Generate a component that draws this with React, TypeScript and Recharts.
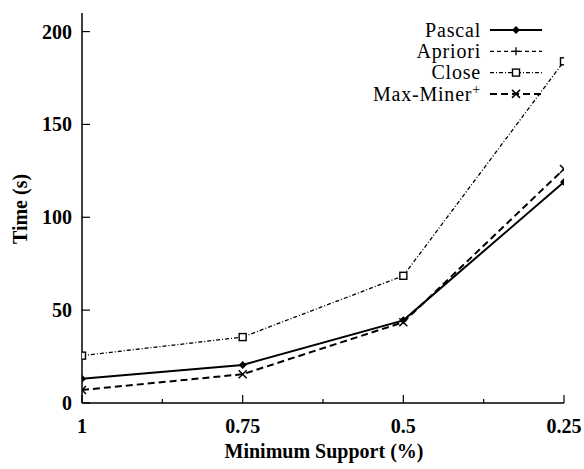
import React from 'react';
import { Label, Legend, Line, LineChart, XAxis, YAxis } from 'recharts';

// minimum support (%) on the x axis, run time in seconds on the y axis
const supports = [1, 0.75, 0.5, 0.25];
const pascalTimes = [13, 20.5, 44.5, 119];
const aprioriTimes: (number | null)[] = [null, null, null, null]; // off the plotted range
const closeTimes = [25.5, 35.5, 68.5, 184];
const maxMinerTimes = [7, 15.5, 43.5, 126];

const xTicks = [1, 0.875, 0.75, 0.625, 0.5, 0.375, 0.25];
const yTicks = [0, 50, 100, 150, 200];

const data = supports.map((s, i) => ({
    support: s,
    Pascal: pascalTimes[i],
    Apriori: aprioriTimes[i],
    Close: closeTimes[i],
    MaxMiner: maxMinerTimes[i],
}));

const FONT = '"Liberation Serif", "Times New Roman", serif';
const W = 584;
const H = 469;
const PLOT_LEFT = 82;
const PLOT_RIGHT = 564;
const PLOT_TOP = 13;
const PLOT_BOTTOM = 403;

const isMajor = (v: number) => supports.includes(v);

function Diamond({ cx, cy }: any) {
    if (cx == null || cy == null) return null;
    const r = 4;
    return <path d={`M${cx},${cy - r}L${cx + r},${cy}L${cx},${cy + r}L${cx - r},${cy}Z`} fill='#000' />;
}
function Plus({ cx, cy }: any) {
    if (cx == null || cy == null) return null;
    const r = 4;
    return <path d={`M${cx - r},${cy}H${cx + r}M${cx},${cy - r}V${cy + r}`} stroke='#000' strokeWidth={1.3} fill='none' />;
}
function Square({ cx, cy }: any) {
    if (cx == null || cy == null) return null;
    const r = 3.5;
    return <rect x={cx - r} y={cy - r} width={2 * r} height={2 * r} stroke='#000' strokeWidth={1.4} fill='#fff' />;
}
function Cross({ cx, cy }: any) {
    if (cx == null || cy == null) return null;
    const r = 4;
    return <path d={`M${cx - r},${cy - r}L${cx + r},${cy + r}M${cx - r},${cy + r}L${cx + r},${cy - r}`} stroke='#000' strokeWidth={1.5} fill='none' />;
}

const series = [
    { key: 'Pascal', label: 'Pascal', dash: undefined, width: 2, Dot: Diamond },
    { key: 'Apriori', label: 'Apriori', dash: '4 3', width: 1.3, Dot: Plus },
    { key: 'Close', label: 'Close', dash: '4 2 1 2', width: 1.3, Dot: Square },
    { key: 'MaxMiner', label: 'Max-Miner', dash: '7 4', width: 2, Dot: Cross },
];

function BottomTick({ x, y, payload }: any) {
    const major = isMajor(payload.value);
    return (
        <g>
            <line x1={x} x2={x} y1={y} y2={y - (major ? 8 : 4)} stroke='#000' strokeWidth={1.2} />
            {major && (
                <text x={x} y={y + 30} textAnchor='middle' fontFamily={FONT} fontWeight='bold' fontSize={20} fill='#000'>
                    {payload.value === 1 ? '1' : String(payload.value)}
                </text>
            )}
        </g>
    );
}
function TopTick({ x, y, payload }: any) {
    const major = isMajor(payload.value);
    return <line x1={x} x2={x} y1={y} y2={y + (major ? 8 : 4)} stroke='#000' strokeWidth={1.2} />;
}
function LeftTick({ x, y, payload }: any) {
    return (
        <g>
            <line x1={x} x2={x + 8} y1={y} y2={y} stroke='#000' strokeWidth={1.2} />
            <text x={x - 10} y={y} dy='0.35em' textAnchor='end' fontFamily={FONT} fontWeight='bold' fontSize={20} fill='#000'>
                {payload.value}
            </text>
        </g>
    );
}
function RightTick({ x, y }: any) {
    return <line x1={x} x2={x - 8} y1={y} y2={y} stroke='#000' strokeWidth={1.2} />;
}

function LegendBox() {
    const left = 300;
    return (
        <svg width={260} height={90} style={{ display: 'block' }}>
            {series.map((s, i) => {
                const cy = 12 + i * 21.3;
                const Dot = s.Dot;
                return (
                    <g key={s.key}>
                        <text x={481 - left} y={cy} dy='0.33em' textAnchor='end' fontFamily={FONT} fontSize={20} letterSpacing={0.8} fill='#000'>
                            {s.label}
                            {s.key === 'MaxMiner' && (
                                <tspan dy='-0.45em' fontSize={14}>+</tspan>
                            )}
                        </text>
                        <line x1={490 - left} x2={542 - left} y1={cy} y2={cy} stroke='#000' strokeWidth={s.width} strokeDasharray={s.dash} />
                        <Dot cx={516 - left} cy={cy} />
                    </g>
                );
            })}
        </svg>
    );
}

export default function App() {
    return (
        <div style={{ position: 'absolute', left: 0, top: 0, width: W, height: H, background: '#fff' }}>
            <LineChart
                width={W}
                height={H}
                data={data}
                margin={{ top: PLOT_TOP, right: W - PLOT_RIGHT, bottom: 0, left: 0 }}
            >
                <XAxis
                    dataKey='support'
                    type='number'
                    domain={[0.25, 1]}
                    reversed
                    ticks={xTicks}
                    interval={0}
                    height={H - PLOT_BOTTOM}
                    tickSize={0}
                    tickMargin={0}
                    tickLine={false}
                    tick={<BottomTick />}
                    axisLine={{ stroke: '#000', strokeWidth: 1.5 }}
                    allowDataOverflow
                >
                    <Label
                        content={() => (
                            <text x={324} y={458} textAnchor='middle' fontFamily={FONT} fontWeight='bold' fontSize={20} fill='#000'>
                                Minimum Support (%)
                            </text>
                        )}
                    />
                </XAxis>
                <XAxis
                    xAxisId='top'
                    orientation='top'
                    type='number'
                    domain={[0.25, 1]}
                    reversed
                    ticks={xTicks}
                    interval={0}
                    height={0}
                    tickSize={0}
                    tickMargin={0}
                    tickLine={false}
                    tick={<TopTick />}
                    axisLine={{ stroke: '#000', strokeWidth: 1.5 }}
                    allowDataOverflow
                />
                <YAxis
                    type='number'
                    domain={[0, 210]}
                    ticks={yTicks}
                    interval={0}
                    width={PLOT_LEFT}
                    tickSize={0}
                    tickMargin={0}
                    tickLine={false}
                    tick={<LeftTick />}
                    axisLine={{ stroke: '#000', strokeWidth: 1.5 }}
                    allowDataOverflow
                >
                    <Label
                        content={() => (
                            <text
                                x={20}
                                y={209}
                                transform='rotate(-90 20 209)'
                                dy='0.35em'
                                textAnchor='middle'
                                fontFamily={FONT}
                                fontWeight='bold'
                                fontSize={20}
                                fill='#000'
                            >
                                Time (s)
                            </text>
                        )}
                    />
                </YAxis>
                <YAxis
                    yAxisId='right'
                    orientation='right'
                    type='number'
                    domain={[0, 210]}
                    ticks={yTicks}
                    interval={0}
                    width={0}
                    tickSize={0}
                    tickMargin={0}
                    tickLine={false}
                    tick={<RightTick />}
                    axisLine={{ stroke: '#000', strokeWidth: 1.5 }}
                    allowDataOverflow
                />
                <Legend
                    layout='vertical'
                    align='center'
                    verticalAlign='middle'
                    wrapperStyle={{ top: 18, left: 300, width: 260 }}
                    content={() => <LegendBox />}
                />
                {series.map((s) => (
                    <Line
                        key={s.key}
                        dataKey={s.key}
                        stroke='#000'
                        strokeWidth={s.width}
                        strokeDasharray={s.dash}
                        dot={<s.Dot />}
                        activeDot={false}
                        isAnimationActive={false}
                        connectNulls={false}
                    />
                ))}
            </LineChart>
        </div>
    );
}
